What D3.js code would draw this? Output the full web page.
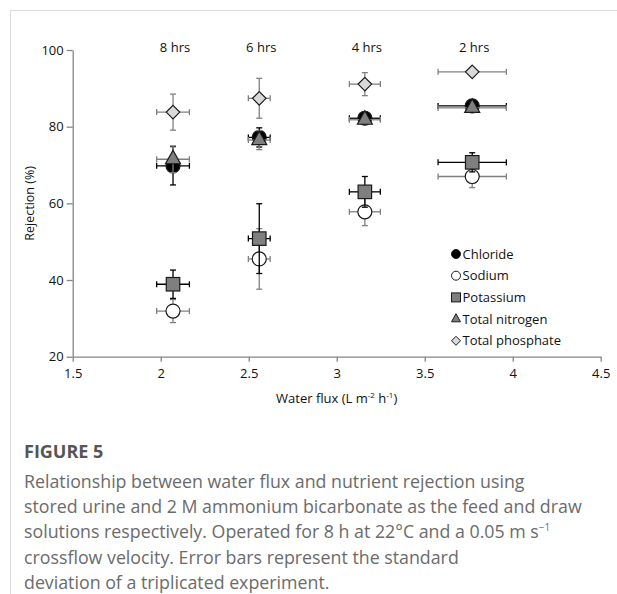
<!DOCTYPE html>
<html>
<head>
<meta charset="utf-8">
<script src="https://cdn.jsdelivr.net/npm/d3@7"></script>
<style>
  body { margin: 0; background: #fff; }
  text { font-family: "Open Sans", sans-serif; }
</style>
</head>
<body>
<div id="chart"></div>
<script>
// values
const flux = [2.07, 2.56, 3.16, 3.77];
const fluxErr = [0.093, 0.062, 0.088, 0.194];
const hourLabels = ["8 hrs", "6 hrs", "4 hrs", "2 hrs"];

const chloride = [69.8, 77.2, 82.2, 85.4];
const chlorideErr = [5.0, 2.5, 1.0, 1.0];
const sodium = [31.9, 45.5, 57.8, 67.0];
const sodiumErr = [3.0, 7.9, 3.6, 2.9];
const potassium = [38.9, 50.8, 63.0, 70.7];
const potassiumErr = [3.7, 9.1, 4.0, 2.5];
const nitrogen = [71.5, 76.5, 81.8, 84.9];
const nitrogenErr = [3.5, 2.5, 1.0, 1.0];
const phosphate = [83.8, 87.4, 91.1, 94.3];
const phosphateErr = [4.7, 5.2, 3.0, 0.8];

const xTicks = [1.5, 2, 2.5, 3, 3.5, 4, 4.5];
const yTicks = [20, 40, 60, 80, 100];

const series = [
  { name: "Chloride", y: chloride, err: chlorideErr, shape: "circle", fill: "#000", bar: "#000" },
  { name: "Sodium", y: sodium, err: sodiumErr, shape: "circle", fill: "#fff", bar: "#808080" },
  { name: "Potassium", y: potassium, err: potassiumErr, shape: "square", fill: "#7f7f7f", bar: "#000" },
  { name: "Total nitrogen", y: nitrogen, err: nitrogenErr, shape: "triangle", fill: "#7f7f7f", bar: "#808080" },
  { name: "Total phosphate", y: phosphate, err: phosphateErr, shape: "diamond", fill: "#d9d9d9", bar: "#808080" }
];

const W = 617, H = 594;
const svg = d3.select("#chart").append("svg")
  .attr("width", W).attr("height", H);

// frame lines of the figure panel
svg.append("line").attr("x1", 10).attr("x2", W).attr("y1", 10.5).attr("y2", 10.5)
  .attr("stroke", "#dcdcdc");
svg.append("line").attr("x1", 10.5).attr("x2", 10.5).attr("y1", 10).attr("y2", H)
  .attr("stroke", "#dcdcdc");

const x = d3.scaleLinear().domain([1.5, 4.5]).range([72.7, 600.7]);
const y = d3.scaleLinear().domain([20, 100]).range([356.7, 50]);

const axisColor = "#868686";

const gx = svg.append("g")
  .attr("transform", `translate(0,${y(20)})`)
  .call(d3.axisBottom(x).tickValues(xTicks).tickFormat(d3.format("")).tickSize(5).tickSizeOuter(0).tickPadding(7));
const gy = svg.append("g")
  .attr("transform", `translate(${x(1.5)},0)`)
  .call(d3.axisLeft(y).tickValues(yTicks).tickSize(6).tickSizeOuter(0).tickPadding(3));

[gx, gy].forEach(g => {
  g.attr("font-size", null).attr("font-family", null);
  g.select(".domain").attr("stroke", axisColor).attr("stroke-width", 1.3);
  g.selectAll(".tick line").attr("stroke", axisColor).attr("stroke-width", 1.3);
  g.selectAll(".tick text").attr("fill", "#111")
    .style("font-size", "13px");
});

// axis titles
svg.append("text")
  .attr("transform", `translate(34,${(y(20) + y(100)) / 2}) rotate(-90)`)
  .attr("text-anchor", "middle")
  .style("font-size", "12.5px").attr("fill", "#111")
  .text("Rejection (%)");

const xt = svg.append("text")
  .attr("x", (x(1.5) + x(4.5)) / 2).attr("y", 403)
  .attr("text-anchor", "middle")
  .style("font-size", "13px").attr("fill", "#111");
xt.append("tspan").text("Water flux (L m");
xt.append("tspan").attr("dy", -5).style("font-size", "8px").text("-2");
xt.append("tspan").attr("dy", 5).text(" h");
xt.append("tspan").attr("dy", -5).style("font-size", "8px").text("-1");
xt.append("tspan").attr("dy", 5).text(")");

// hour labels above each flux group
svg.append("g").selectAll("text")
  .data(hourLabels)
  .join("text")
  .attr("x", (d, i) => x(flux[i]) + 2)
  .attr("y", 52)
  .attr("text-anchor", "middle")
  .style("font-size", "13px").attr("fill", "#111")
  .text(d => d);

function marker(sel, shape, s, fill) {
  if (shape === "circle") {
    sel.append("circle").attr("r", s / 2);
  } else if (shape === "square") {
    sel.append("rect").attr("x", -s / 2).attr("y", -s / 2).attr("width", s).attr("height", s);
  } else if (shape === "triangle") {
    const h = s * 0.9;
    sel.append("path").attr("d", `M0,${-h * 2 / 3}L${s / 2},${h / 3}L${-s / 2},${h / 3}Z`);
  } else {
    const r = s / 2;
    sel.append("path").attr("d", `M0,${-r}L${r},0L0,${r}L${-r},0Z`);
  }
  sel.selectAll("*").attr("fill", fill).attr("stroke", "#1a1a1a").attr("stroke-width", 1.2);
}

const sizes = { circle: 14, square: 13.5, triangle: 15, diamond: 13.5 };
const cap = 3;

series.forEach(s => {
  const pts = flux.map((f, i) => ({ fx: f, fe: fluxErr[i], v: s.y[i], e: s.err[i] }));
  const g = svg.append("g");

  // error bars
  const eb = g.selectAll("g.eb").data(pts).join("g").attr("class", "eb")
    .attr("stroke", s.bar).attr("stroke-width", 1.3).attr("fill", "none");
  eb.append("line")
    .attr("x1", d => x(d.fx)).attr("x2", d => x(d.fx))
    .attr("y1", d => y(d.v - d.e)).attr("y2", d => y(d.v + d.e));
  eb.append("line")
    .attr("x1", d => x(d.fx) - cap).attr("x2", d => x(d.fx) + cap)
    .attr("y1", d => y(d.v + d.e)).attr("y2", d => y(d.v + d.e));
  eb.append("line")
    .attr("x1", d => x(d.fx) - cap).attr("x2", d => x(d.fx) + cap)
    .attr("y1", d => y(d.v - d.e)).attr("y2", d => y(d.v - d.e));
  eb.append("line")
    .attr("x1", d => x(d.fx - d.fe)).attr("x2", d => x(d.fx + d.fe))
    .attr("y1", d => y(d.v)).attr("y2", d => y(d.v));
  eb.append("line")
    .attr("x1", d => x(d.fx - d.fe)).attr("x2", d => x(d.fx - d.fe))
    .attr("y1", d => y(d.v) - cap).attr("y2", d => y(d.v) + cap);
  eb.append("line")
    .attr("x1", d => x(d.fx + d.fe)).attr("x2", d => x(d.fx + d.fe))
    .attr("y1", d => y(d.v) - cap).attr("y2", d => y(d.v) + cap);

  // markers
  g.selectAll("g.mk").data(pts).join("g").attr("class", "mk")
    .attr("transform", d => `translate(${x(d.fx)},${y(d.v)})`)
    .each(function () { marker(d3.select(this), s.shape, sizes[s.shape], s.fill); });
});

// legend
const legend = svg.append("g").attr("transform", "translate(456,254)");
series.forEach((s, i) => {
  const row = legend.append("g").attr("transform", `translate(0,${i * 21.7})`);
  const m = row.append("g");
  marker(m, s.shape, 9, s.fill);
  m.selectAll("*").attr("stroke-width", 1);
  row.append("text").attr("x", 6.5).attr("y", 4.5)
    .style("font-size", "13px").attr("fill", "#111")
    .text(s.name);
});

// caption
const capG = svg.append("g").attr("fill", "#6b6b6b");
capG.append("text").attr("x", 24).attr("y", 458)
  .style("font-size", "18px").style("font-weight", "bold").attr("fill", "#555")
  .text("FIGURE 5");
const captionLines = [
  "Relationship between water flux and nutrient rejection using",
  "stored urine and 2 M ammonium bicarbonate as the feed and draw",
  "solutions respectively. Operated for 8 h at 22°C and a 0.05 m s",
  "crossflow velocity. Error bars represent the standard",
  "deviation of a triplicated experiment."
];
captionLines.forEach((t, i) => {
  const tx = capG.append("text").attr("x", 24).attr("y", 488 + i * 25.2)
    .style("font-size", "17.8px");
  tx.append("tspan").text(t);
  if (i === 2) tx.append("tspan").attr("dy", -7).style("font-size", "10px").text("−1");
});
</script>
</body>
</html>
